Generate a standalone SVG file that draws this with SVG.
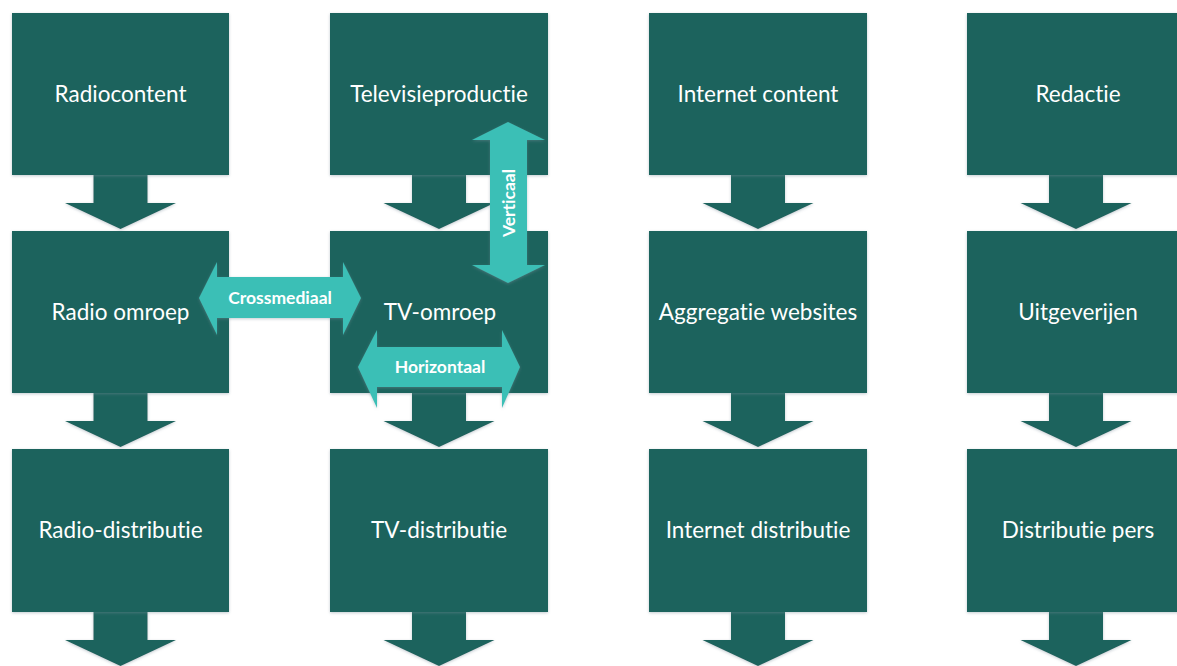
<svg xmlns="http://www.w3.org/2000/svg" width="1177" height="666" viewBox="0 0 1177 666">
<defs>
<filter id="sh" x="-10%" y="-10%" width="120%" height="120%">
<feGaussianBlur in="SourceAlpha" stdDeviation="1.5"/>
<feOffset dx="0" dy="1" result="b"/>
<feFlood flood-color="#7a8c99" flood-opacity="0.45"/>
<feComposite in2="b" operator="in"/>
<feMerge><feMergeNode/><feMergeNode in="SourceGraphic"/></feMerge>
</filter>
<path id="dn" d="M-27,0 H27 V28 H55.5 L0,54 L-55.5,28 H-27 Z"/>
</defs>
<style>
.box{fill:#1d635d;filter:url(#sh)}
.dn{fill:#1d635d;filter:url(#sh)}
.lbl{font-family:Lato,"Open Sans",sans-serif;font-size:22.5px;fill:#ffffff;text-anchor:middle;font-variant-ligatures:none}
.rel{fill:#3bbfb6;filter:url(#sh)}
.rlbl{font-family:Lato,"Open Sans",sans-serif;font-size:17.5px;font-weight:bold;fill:#ffffff;text-anchor:middle;font-variant-ligatures:none}
</style>
<rect width="1177" height="666" fill="#ffffff"/>
<g id="connectors">
<use href="#dn" class="dn" x="120.5" y="175"/>
<use href="#dn" class="dn" x="120.5" y="393"/>
<use href="#dn" class="dn" x="120.5" y="612"/>
<use href="#dn" class="dn" x="439" y="175"/>
<use href="#dn" class="dn" x="439" y="393"/>
<use href="#dn" class="dn" x="439" y="612"/>
<use href="#dn" class="dn" x="758" y="175"/>
<use href="#dn" class="dn" x="758" y="393"/>
<use href="#dn" class="dn" x="758" y="612"/>
<use href="#dn" class="dn" x="1076" y="175"/>
<use href="#dn" class="dn" x="1076" y="393"/>
<use href="#dn" class="dn" x="1076" y="612"/>
</g>
<g id="radiocontent"><rect class="box" x="12" y="13" width="217" height="162"/><text class="lbl" x="120.5" y="102">Radiocontent</text></g>
<g id="televisieproductie"><rect class="box" x="330" y="13" width="218" height="162"/><text class="lbl" x="439" y="102">Televisieproductie</text></g>
<g id="internetcontent"><rect class="box" x="649" y="13" width="218" height="162"/><text class="lbl" x="758" y="102">Internet content</text></g>
<g id="redactie"><rect class="box" x="967" y="13" width="218" height="162"/><text class="lbl" x="1078" y="102">Redactie</text></g>
<g id="radioomroep"><rect class="box" x="12" y="231" width="217" height="162"/><text class="lbl" x="120.5" y="320">Radio omroep</text></g>
<g id="tvomroep"><rect class="box" x="330" y="231" width="218" height="162"/><text class="lbl" x="440" y="320">TV-omroep</text></g>
<g id="aggregatie"><rect class="box" x="649" y="231" width="218" height="162"/><text class="lbl" x="758" y="320">Aggregatie websites</text></g>
<g id="uitgeverijen"><rect class="box" x="967" y="231" width="218" height="162"/><text class="lbl" x="1078" y="320">Uitgeverijen</text></g>
<g id="radiodistributie"><rect class="box" x="12" y="449" width="217" height="163"/><text class="lbl" x="120.5" y="538">Radio-distributie</text></g>
<g id="tvdistributie"><rect class="box" x="330" y="449" width="218" height="163"/><text class="lbl" x="439" y="538">TV-distributie</text></g>
<g id="internetdistributie"><rect class="box" x="649" y="449" width="218" height="163"/><text class="lbl" x="758" y="538">Internet distributie</text></g>
<g id="distributiepers"><rect class="box" x="967" y="449" width="218" height="163"/><text class="lbl" x="1078" y="538">Distributie pers</text></g>
<g id="crossmediaal">
<path class="rel" d="M199,298 L217,262 V277 H343 V262 L361,298 L343,335 V318 H217 V335 Z"/>
<text class="rlbl" x="280" y="304">Crossmediaal</text>
</g>
<g id="verticaal">
<path class="rel" d="M508,122 L545,140 H527 V265 H545 L508,283 L472,265 H490 V140 H472 Z"/>
<text class="rlbl" transform="translate(515,203) rotate(-90)">Verticaal</text>
</g>
<g id="horizontaal">
<path class="rel" d="M358,367 L377,330 V347 H502 V330 L520,367 L502,408 V387 H377 V408 Z"/>
<text class="rlbl" x="440" y="373">Horizontaal</text>
</g>
</svg>
